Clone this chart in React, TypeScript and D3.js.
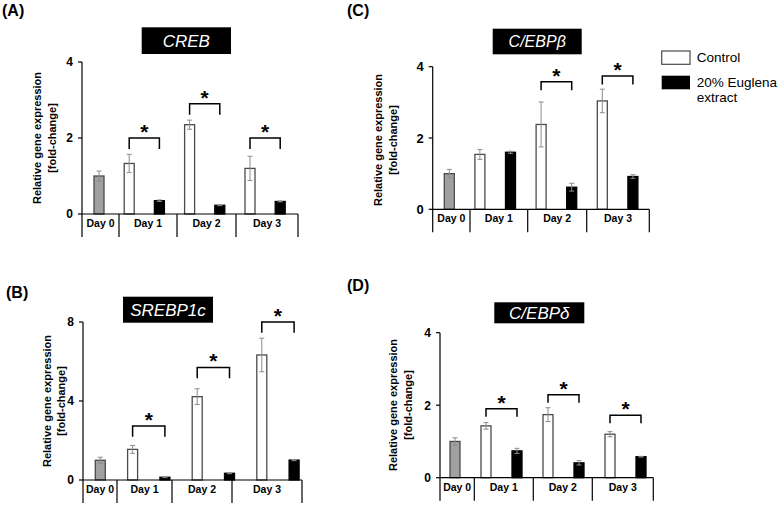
import React from "react";
import * as d3 from "d3";

// ---------- DATA ----------
const days = ["Day 0", "Day 1", "Day 2", "Day 3"];
const legendLabels = ["Control", "20% Euglena", "extract"];

// CREB
const crebDay0 = [1.0, 0.13];
const crebControl = [1.33, 2.35, 1.2];
const crebControlErr = [0.24, 0.12, 0.32];
const crebEuglena = [0.35, 0.23, 0.33];
const crebEuglenaErr = [0.02, 0.01, 0.01];
const crebSig = [2.0, 2.9, 2.0];

// SREBP1c
const srebpDay0 = [1.0, 0.15];
const srebpControl = [1.55, 4.22, 6.33];
const srebpControlErr = [0.2, 0.4, 0.85];
const srebpEuglena = [0.14, 0.34, 1.01];
const srebpEuglenaErr = [0.02, 0.02, 0.03];
const srebpSig = [2.73, 5.7, 8.0];

// C/EBPβ
const cebpbDay0 = [1.0, 0.12];
const cebpbControl = [1.54, 2.38, 3.04];
const cebpbControlErr = [0.14, 0.63, 0.33];
const cebpbEuglena = [1.6, 0.62, 0.92];
const cebpbEuglenaErr = [0.03, 0.11, 0.05];
const cebpbSig = [null, 3.58, 3.74];

// C/EBPδ
const cebpdDay0 = [1.0, 0.1];
const cebpdControl = [1.43, 1.74, 1.2];
const cebpdControlErr = [0.09, 0.19, 0.07];
const cebpdEuglena = [0.74, 0.41, 0.58];
const cebpdEuglenaErr = [0.07, 0.06, 0.01];
const cebpdSig = [1.9, 2.29, 1.72];

// ---------- LAYOUT ----------
const panels = [
  {
    letter: "(A)", title: "CREB", letterPos: [2, 16],
    day0: crebDay0, ctrl: crebControl, ctrlErr: crebControlErr, eug: crebEuglena, eugErr: crebEuglenaErr, sig: crebSig,
    axisX: 82, endX: 298, y0: 214, yTop: 62, yMax: 4, ticks: [0, 2, 4], firstBar: 99, step: 30.2,
    dividers: [119, 177, 236], box: [141.7, 27.3, 89.3, 26.7], titleSize: 17, ylabX: [37, 52], ylabCy: 138, leg: 11, tickSize: 12,
  },
  {
    letter: "(B)", title: "SREBP1c", letterPos: [6, 298],
    day0: srebpDay0, ctrl: srebpControl, ctrlErr: srebpControlErr, eug: srebpEuglena, eugErr: srebpEuglenaErr, sig: srebpSig,
    axisX: 83, endX: 302, y0: 480, yTop: 322, yMax: 8, ticks: [0, 4, 8], firstBar: 100.3, step: 32.3,
    dividers: [117, 172, 232], box: [123, 296.7, 90, 26], titleSize: 17, ylabX: [47, 61], ylabCy: 401, leg: 10.7, tickSize: 12,
  },
  {
    letter: "(C)", title: "C/EBPβ", letterPos: [347, 16],
    day0: cebpbDay0, ctrl: cebpbControl, ctrlErr: cebpbControlErr, eug: cebpbEuglena, eugErr: cebpbEuglenaErr, sig: cebpbSig,
    axisX: 432.7, endX: 649.3, y0: 209.3, yTop: 66.7, yMax: 4, ticks: [0, 2, 4], firstBar: 449.3, step: 30.6,
    dividers: [470, 527.7, 586.7], box: [492.7, 28.7, 89, 25.6], titleSize: 16, ylabX: [378, 393], ylabCy: 140, leg: 8.5, tickSize: 13,
  },
  {
    letter: "(D)", title: "C/EBPδ", letterPos: [347, 291],
    day0: cebpdDay0, ctrl: cebpdControl, ctrlErr: cebpdControlErr, eug: cebpdEuglena, eugErr: cebpdEuglenaErr, sig: cebpdSig,
    axisX: 440, endX: 653.3, y0: 477.7, yTop: 332.7, yMax: 4, ticks: [0, 2, 4], firstBar: 455, step: 31,
    dividers: [474.3, 533.3, 592.3], box: [494.3, 302.3, 90, 21], titleSize: 17, ylabX: [393, 408], ylabCy: 405, leg: 8, tickSize: 12,
  },
];

const FONT = "'Liberation Sans', Arial, sans-serif";
const CTRL_STROKE = "#4a4a4a";
const ERR = "#8c8c8c";

function Panel({ p }: { p: any }) {
  const y = d3.scaleLinear().domain([0, p.yMax]).range([p.y0, p.yTop]);
  const x = d3.scaleLinear().domain([0, 6]).range([p.firstBar, p.firstBar + 6 * p.step]);
  const bw = 10;
  const bars: any[] = [];
  bars.push({ i: 0, v: p.day0[0], e: p.day0[1], kind: "day0" });
  p.ctrl.forEach((v: number, k: number) => bars.push({ i: 1 + 2 * k, v, e: p.ctrlErr[k], kind: "ctrl" }));
  p.eug.forEach((v: number, k: number) => bars.push({ i: 2 + 2 * k, v, e: p.eugErr[k], kind: "eug" }));
  const bounds = [p.axisX, ...p.dividers, p.endX];
  const fill = (k: string) => (k === "day0" ? "#a0a0a0" : k === "ctrl" ? "#ffffff" : "#000000");
  const stroke = (k: string) => (k === "eug" ? "#000" : CTRL_STROKE);
  return (
    <g>
      <text x={p.letterPos[0]} y={p.letterPos[1]} fontFamily={FONT} fontWeight="bold" fontSize={16} fill="#000">
        {p.letter}
      </text>
      <rect x={p.box[0]} y={p.box[1]} width={p.box[2]} height={p.box[3]} fill="#000" />
      <text
        x={p.box[0] + p.box[2] / 2}
        y={p.box[1] + p.box[3] / 2}
        dy="0.36em"
        textAnchor="middle"
        fontFamily={FONT}
        fontStyle="italic"
        fontSize={p.titleSize}
        fill="#fff"
      >
        {p.title}
      </text>
      {["Relative gene expression", "[fold-change]"].map((t, k) => (
        <text
          key={t}
          transform={`translate(${p.ylabX[k]},${p.ylabCy}) rotate(-90)`}
          textAnchor="middle"
          dy="0.36em"
          fontFamily={FONT}
          fontWeight="bold"
          fontSize={11}
          fill="#000"
        >
          {t}
        </text>
      ))}
      {bars.map((b) => (
        <rect
          key={b.i}
          x={x(b.i) - bw / 2}
          y={y(b.v)}
          width={bw}
          height={p.y0 - y(b.v)}
          fill={fill(b.kind)}
          stroke={stroke(b.kind)}
          strokeWidth={1.3}
        />
      ))}
      {bars.map((b) => (
        <g key={"e" + b.i} stroke={ERR} strokeWidth={1}>
          <line x1={x(b.i)} x2={x(b.i)} y1={y(b.v + b.e)} y2={y(b.v - b.e)} />
          <line x1={x(b.i) - 2.5} x2={x(b.i) + 2.5} y1={y(b.v + b.e)} y2={y(b.v + b.e)} />
          <line x1={x(b.i) - 2.5} x2={x(b.i) + 2.5} y1={y(b.v - b.e)} y2={y(b.v - b.e)} />
        </g>
      ))}
      <line x1={p.axisX} x2={p.axisX} y1={p.yTop} y2={p.y0 + 23} stroke="#000" strokeWidth={1.2} />
      <line x1={p.axisX} x2={p.endX} y1={p.y0} y2={p.y0} stroke="#000" strokeWidth={1.2} />
      {bounds.slice(1).map((bx: number, k: number) => (
        <line key={k} x1={bx} x2={bx} y1={p.y0} y2={p.y0 + 23} stroke="#000" strokeWidth={1.2} />
      ))}
      {p.ticks.map((t: number) => (
        <g key={t}>
          <line x1={p.axisX - 4} x2={p.axisX} y1={y(t)} y2={y(t)} stroke="#000" strokeWidth={1.2} />
          <text
            x={p.axisX - 9}
            y={y(t)}
            dy="0.36em"
            textAnchor="end"
            fontFamily={FONT}
            fontWeight="bold"
            fontSize={p.tickSize}
            fill="#000"
          >
            {t}
          </text>
        </g>
      ))}
      {days.map((d, k) => (
        <text
          key={d}
          x={(bounds[k] + bounds[k + 1]) / 2}
          y={p.y0 + 13}
          textAnchor="middle"
          fontFamily={FONT}
          fontWeight="bold"
          fontSize={10.5}
          fill="#000"
        >
          {d}
        </text>
      ))}
      {p.sig.map((s: number | null, k: number) => {
        if (s == null) return null;
        const x1 = x(1 + 2 * k);
        const x2 = x(2 + 2 * k);
        const yy = y(s);
        return (
          <g key={"s" + k}>
            <path
              d={`M${x1},${yy + p.leg}V${yy}H${x2}V${yy + p.leg}`}
              fill="none"
              stroke="#000"
              strokeWidth={1.5}
            />
            <text
              x={(x1 + x2) / 2}
              y={yy + 1}
              textAnchor="middle"
              fontFamily={FONT}
              fontWeight="bold"
              fontSize={21}
              fill="#000"
            >
              *
            </text>
          </g>
        );
      })}
    </g>
  );
}

export default function App() {
  return (
    <svg
      width={778}
      height={507}
      viewBox="0 0 778 507"
      style={{ position: "absolute", left: 0, top: 0, background: "#fff" }}
    >
      <rect width={778} height={507} fill="#fff" />
      {panels.map((p) => (
        <Panel key={p.letter} p={p} />
      ))}
      <rect x={661.7} y={51} width={28.3} height={13.3} fill="#fff" stroke={CTRL_STROKE} strokeWidth={1.2} />
      <rect x={661.7} y={75.7} width={28.3} height={13.6} fill="#000" />
      <text x={696.7} y={61.7} fontFamily={FONT} fontSize={13.5} fill="#000">
        {legendLabels[0]}
      </text>
      <text x={696.7} y={87.3} fontFamily={FONT} fontSize={13.5} fill="#000">
        {legendLabels[1]}
      </text>
      <text x={696.7} y={101.7} fontFamily={FONT} fontSize={13.5} fill="#000">
        {legendLabels[2]}
      </text>
    </svg>
  );
}
